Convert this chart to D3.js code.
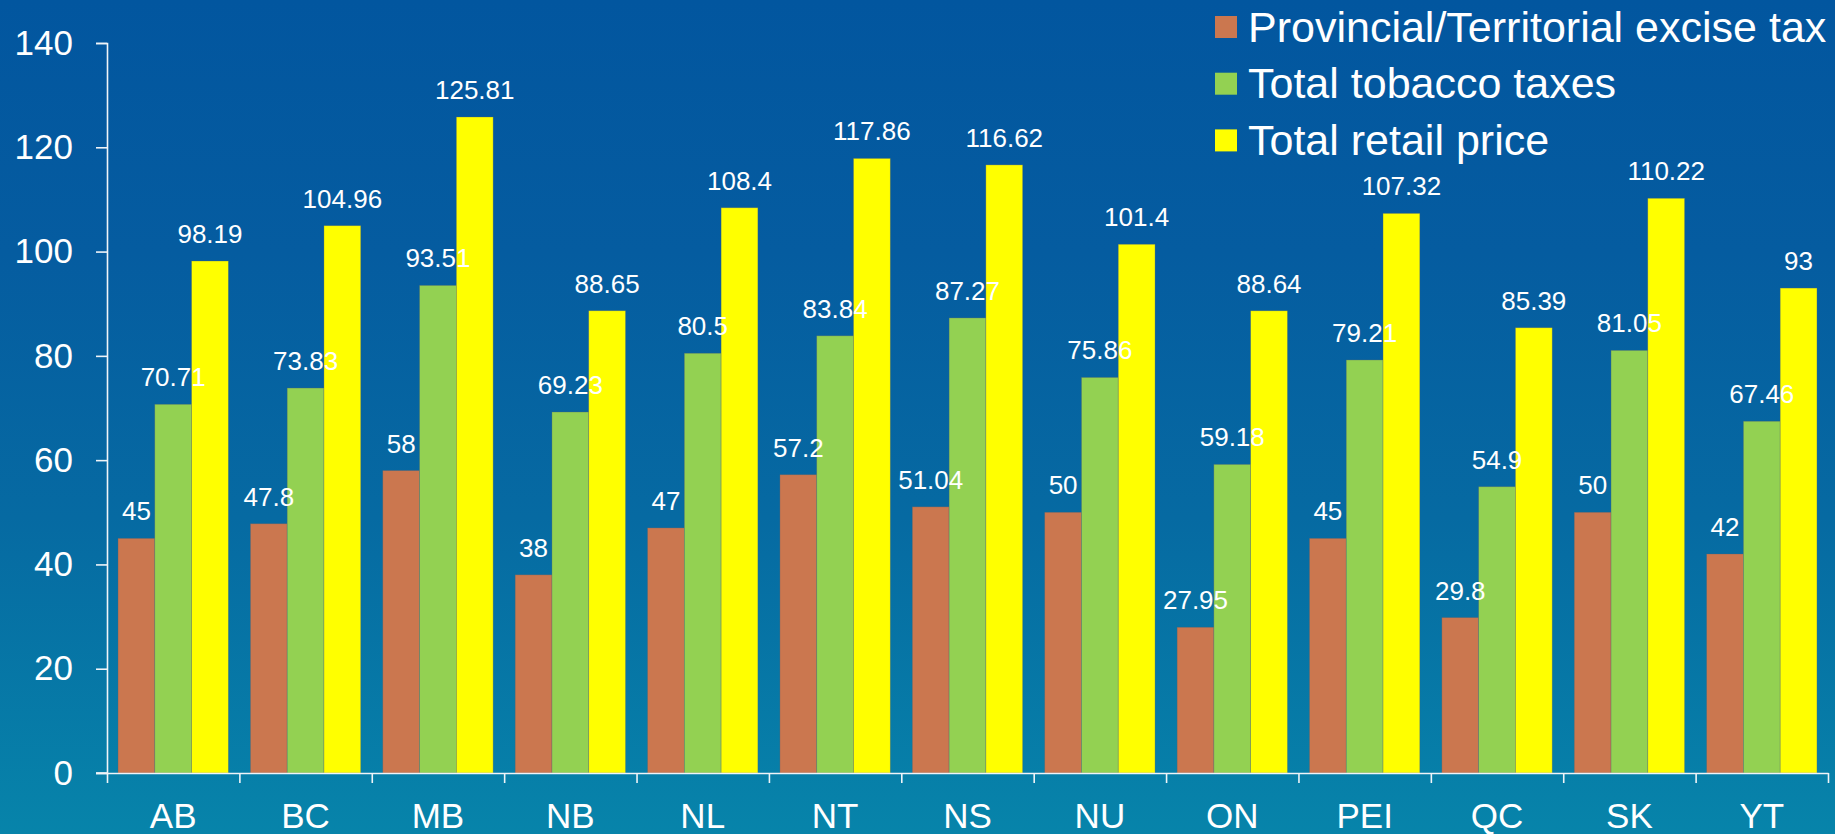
<!DOCTYPE html>
<html>
<head>
<meta charset="utf-8">
<script src="https://cdn.jsdelivr.net/npm/d3@7"></script>
<style>
  html, body { margin: 0; padding: 0; }
  body { width: 1835px; height: 834px; overflow: hidden; }
  svg { display: block; font-family: "Liberation Sans", Arial, sans-serif; }
</style>
</head>
<body>
<svg id="chart"></svg>
<script>
var provinces = ["AB", "BC", "MB", "NB", "NL", "NT", "NS", "NU", "ON", "PEI", "QC", "SK", "YT"];
var seriesNames = ["Provincial/Territorial excise tax", "Total tobacco taxes", "Total retail price"];
var exciseTax = [45, 47.8, 58, 38, 47, 57.2, 51.04, 50, 27.95, 45, 29.8, 50, 42];
var tobaccoTaxes = [70.71, 73.83, 93.51, 69.23, 80.5, 83.84, 87.27, 75.86, 59.18, 79.21, 54.9, 81.05, 67.46];
var retailPrice = [98.19, 104.96, 125.81, 88.65, 108.4, 117.86, 116.62, 101.4, 88.64, 107.32, 85.39, 110.22, 93];
var yTicks = [0, 20, 40, 60, 80, 100, 120, 140];
var colors = ["#CB774F", "#93D152", "#FFFF00"];

var width = 1835, height = 834;
var plotLeft = 107, plotRight = 1828, plotTop = 43, plotBottom = 773;

var allValues = [exciseTax, tobaccoTaxes, retailPrice];
var data = provinces.map(function(p, i) {
  return { prov: p, values: allValues.map(function(arr, k) { return { key: seriesNames[k], idx: k, value: arr[i] }; }) };
});

var svg = d3.select("#chart").attr("width", width).attr("height", height);

// background gradient
var grad = svg.append("defs").append("linearGradient")
    .attr("id", "bg").attr("x1", 0).attr("y1", 0).attr("x2", 0).attr("y2", 1);
grad.append("stop").attr("offset", "0%").attr("stop-color", "#02569F");
grad.append("stop").attr("offset", "30%").attr("stop-color", "#055CA0");
grad.append("stop").attr("offset", "62%").attr("stop-color", "#066AA2");
grad.append("stop").attr("offset", "100%").attr("stop-color", "#0784AA");
svg.append("rect").attr("width", width).attr("height", height).attr("fill", "url(#bg)");

var x0 = d3.scaleBand().domain(provinces).range([plotLeft, plotRight]).padding(0);
var x1 = d3.scaleBand().domain(seriesNames).range([0, x0.bandwidth()]).paddingInner(0).paddingOuter(0.3);
var y = d3.scaleLinear().domain([0, 140]).range([plotBottom, plotTop]);

// bars
var groups = svg.append("g").selectAll("g")
  .data(data).enter().append("g")
    .attr("transform", function(d) { return "translate(" + x0(d.prov) + ",0)"; });

groups.selectAll("rect")
  .data(function(d) { return d.values; })
  .enter().append("rect")
    .attr("x", function(d) { return x1(d.key); })
    .attr("y", function(d) { return y(d.value); })
    .attr("width", x1.bandwidth())
    .attr("height", function(d) { return plotBottom - y(d.value); })
    .attr("fill", function(d) { return colors[d.idx]; })
    .attr("stroke", "rgba(90,100,110,0.45)")
    .attr("stroke-width", 0.7);

// y axis
var yAxis = svg.append("g")
    .attr("transform", "translate(" + plotLeft + ",0)")
    .call(d3.axisLeft(y).tickValues(yTicks).tickSize(11).tickPadding(23));
yAxis.select(".domain").attr("stroke", "#F0F4F8").attr("stroke-width", 1.6);
yAxis.selectAll(".tick line").attr("stroke", "#F0F4F8").attr("stroke-width", 1.6);
yAxis.selectAll(".tick text").attr("fill", "#FFFFFF").style("font-size", "35px").attr("font-family", null);

// x axis: boundary ticks
var xb = d3.scaleLinear().domain([0, provinces.length]).range([plotLeft, plotRight]);
var xAxis = svg.append("g")
    .attr("transform", "translate(0," + plotBottom + ")")
    .call(d3.axisBottom(xb).ticks(provinces.length).tickSizeInner(10).tickSizeOuter(0).tickFormat(""));
xAxis.select(".domain").attr("stroke", "#F0F4F8").attr("stroke-width", 1.6);
xAxis.selectAll(".tick line").attr("stroke", "#F0F4F8").attr("stroke-width", 1.6);

// extend x axis line left to the 0 tick
svg.append("line")
    .attr("x1", plotLeft - 11).attr("x2", plotLeft)
    .attr("y1", plotBottom).attr("y2", plotBottom)
    .attr("stroke", "#F0F4F8").attr("stroke-width", 1.6);

// x labels
var xLab = svg.append("g")
    .attr("transform", "translate(0," + plotBottom + ")")
    .call(d3.axisBottom(x0).tickSize(0).tickPadding(30));
xLab.select(".domain").remove();
xLab.selectAll(".tick text").attr("fill", "#FFFFFF").style("font-size", "35px").attr("font-family", null);

// value labels
groups.selectAll("text.val")
  .data(function(d) { return d.values; })
  .enter().append("text")
    .attr("class", "val")
    .attr("x", function(d) { return x1(d.key) + x1.bandwidth() / 2; })
    .attr("y", function(d) { return y(d.value) - 18; })
    .attr("text-anchor", "middle")
    .attr("fill", "#FFFFFF")
    .style("font-size", "26px")
    .text(function(d) { return d.value; });

// legend
var legend = svg.append("g").selectAll("g")
  .data(seriesNames).enter().append("g")
    .attr("transform", function(d, i) { return "translate(1215," + (16 + i * 56.7) + ")"; });
legend.append("rect")
    .attr("width", 22).attr("height", 22)
    .attr("fill", function(d, i) { return colors[i]; });
legend.append("text")
    .attr("x", 33).attr("y", 25.7)
    .attr("fill", "#FFFFFF")
    .style("font-size", "43px")
    .text(function(d) { return d; });
</script>
</body>
</html>
